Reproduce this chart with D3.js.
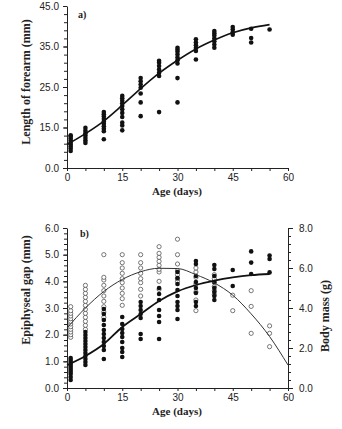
<!DOCTYPE html>
<html>
<head>
<meta charset="utf-8">
<script src="https://cdn.jsdelivr.net/npm/d3@7"></script>
<style>
  body { margin: 0; background: #fff; }
  text { fill: #222; }
</style>
</head>
<body>
<div id="chart"></div>
<script>
// ---- data ----
const ageGroups = [1, 5, 10, 15, 20, 25, 30, 35, 40, 45, 50, 55];

// a) forearm length (mm), one list per age group
const forearm = [
  [9.2, 9.8, 10.3, 10.8, 11.3, 11.8, 12.3, 12.8, 13.1],
  [11.2, 11.8, 12.4, 13.0, 13.6, 14.2, 14.9],
  [12.1, 14.1, 14.7, 15.3, 15.9, 16.5, 17.1, 17.7, 18.3, 18.8],
  [14.3, 15.5, 16.2, 17.6, 18.6, 19.5, 20.3, 21.0, 21.6, 22.2, 22.8],
  [17.8, 21.2, 23.4, 24.8, 25.6, 26.4, 27.2],
  [18.8, 27.7, 28.5, 29.3, 30.2, 31.0, 31.5],
  [21.2, 27.2, 30.8, 31.6, 32.3, 33.0, 33.7, 34.2, 34.7],
  [31.8, 33.9, 34.6, 35.3, 36.0, 36.8],
  [34.7, 35.5, 36.3, 37.0, 37.7, 38.3, 38.8],
  [37.9, 38.5, 39.2, 39.8],
  [36.0, 37.1, 39.4],
  [39.2]
];
const forearmFitAge = [0, 5, 10, 15, 20, 25, 30, 35, 40, 45, 50, 55];
const forearmFit = [10.8, 13.5, 16.6, 20.5, 24.6, 28.4, 31.6, 34.4, 36.6, 38.4, 39.6, 40.4];

// b) epiphyseal gap (mm, open circles, left axis)
const gap = [
  [1.9, 2.0, 2.1, 2.2, 2.3, 2.4, 2.5, 2.6, 2.7, 2.8, 2.9, 3.05],
  [2.2, 2.35, 2.5, 2.65, 2.8, 2.95, 3.1, 3.25, 3.4, 3.55, 3.7, 3.85],
  [2.65, 2.85, 3.05, 3.25, 3.45, 3.65, 3.85, 4.05, 4.15, 5.0],
  [3.1, 3.35, 3.55, 3.75, 3.95, 4.1, 4.3, 4.5, 4.7, 5.0],
  [3.45, 3.7, 3.95, 4.1, 4.3, 4.5, 4.7, 5.0],
  [3.7, 4.0, 4.35, 4.45, 4.6, 4.75, 4.9, 5.05, 5.3],
  [4.0, 4.1, 4.25, 4.4, 4.65, 5.0, 5.58],
  [2.9, 3.3, 3.6, 3.9, 4.15, 4.35, 4.5],
  [3.5, 3.65, 3.8, 3.95, 4.1, 4.25],
  [2.9, 3.48],
  [2.05, 3.06, 3.65],
  [1.55, 2.05, 2.33]
];
const gapFitAge = [0, 5, 10, 15, 20, 25, 30, 35, 40, 45, 50, 55, 60];
const gapFit = [2.25, 3.0, 3.62, 4.07, 4.36, 4.49, 4.48, 4.25, 3.94, 3.48, 2.78, 1.93, 0.86];

// b) body mass (g, filled circles, right axis)
const mass = [
  [0.4, 0.55, 0.7, 0.8, 0.9, 1.0, 1.1, 1.2, 1.3, 1.4, 1.5],
  [1.15, 1.3, 1.45, 1.6, 1.75, 1.9, 2.05, 2.2, 2.35, 2.5, 2.65, 2.8],
  [1.45, 1.9, 2.1, 2.3, 2.5, 2.7, 2.9, 3.15, 3.4, 3.7, 3.95],
  [1.55, 1.8, 2.0, 2.3, 2.55, 2.75, 2.95, 3.2, 3.55],
  [2.45, 2.7, 3.5, 3.7, 3.9, 4.1, 4.3],
  [2.45, 3.3, 3.6, 3.9, 4.4, 4.7, 5.0],
  [3.45, 3.9, 4.1, 4.3, 4.6, 4.9, 5.2, 5.5, 5.8],
  [4.1, 4.3, 4.75, 5.0, 5.3, 5.6, 6.2, 6.35],
  [4.4, 4.6, 4.8, 5.0, 5.3, 5.6, 5.95, 6.15],
  [5.1, 5.9],
  [5.7, 6.27, 6.83],
  [5.78, 6.45, 6.62]
];
const massFitAge = [0, 5, 10, 15, 20, 25, 30, 35, 40, 45, 50, 55];
const massFit = [1.14, 1.6, 2.2, 3.05, 3.7, 4.35, 4.83, 5.15, 5.37, 5.53, 5.64, 5.7];

const xTicks = [0, 15, 30, 45, 60];
const forearmTicks = [5, 15, 25, 35, 45];
const forearmTickLabels = ["0.0", "15.0", "25.0", "35.0", "45.0"];
const gapTicks = [0, 1, 2, 3, 4, 5, 6];
const massTicks = [0, 2, 4, 6, 8];

// ---- layout ----
const W = 342, H = 429;
const left = 67, right = 288;
const sans = "'Liberation Sans', Arial, sans-serif";
const serif = "'Liberation Serif', 'Times New Roman', serif";

const svg = d3.select("#chart").append("svg")
  .attr("width", W).attr("height", H);

const x = d3.scaleLinear().domain([0, 60]).range([left, right]);

function flat(groups) {
  let out = [];
  groups.forEach((vals, i) => vals.forEach(v => out.push([ageGroups[i], v])));
  return out;
}

function styleAxis(g) {
  g.select(".domain").attr("stroke", "#222").attr("stroke-width", 1);
  g.selectAll(".tick line").attr("stroke", "#222").attr("stroke-width", 1);
  g.selectAll("text").style("font-family", sans).style("font-size", "10px").attr("fill", "#333");
}

// x axis with minor ticks every 5 days and labels every 15
function xAxis(yPos) {
  let minor = svg.append("g").attr("transform", `translate(0,${yPos})`)
    .call(d3.axisBottom(x).tickValues(d3.range(0, 61, 5)).tickSize(3).tickSizeOuter(0).tickFormat(""));
  styleAxis(minor);
  let major = svg.append("g").attr("transform", `translate(0,${yPos})`)
    .call(d3.axisBottom(x).tickValues(xTicks).tickSize(0).tickPadding(6).tickFormat(d3.format("d")));
  major.select(".domain").remove();
  styleAxis(major);
}

// ---- panel a ----
const ya = d3.scaleLinear().domain([5, 45]).range([168, 6]);

xAxis(168);
let ayMinor = svg.append("g").attr("transform", `translate(${left},0)`)
  .call(d3.axisLeft(ya).tickValues(d3.range(5, 46, 2)).tickSize(3).tickSizeOuter(0).tickFormat(""));
styleAxis(ayMinor);
let ayMajor = svg.append("g").attr("transform", `translate(${left},0)`)
  .call(d3.axisLeft(ya).tickValues(forearmTicks).tickSize(4).tickPadding(4)
    .tickFormat((d, i) => forearmTickLabels[i]));
ayMajor.select(".domain").remove();
styleAxis(ayMajor);

svg.append("g").selectAll("circle")
  .data(flat(forearm)).enter().append("circle")
  .attr("cx", d => x(d[0])).attr("cy", d => ya(d[1]))
  .attr("r", 2.3).attr("fill", "#111");

svg.append("path")
  .datum(forearmFitAge.map((a, i) => [a, forearmFit[i]]))
  .attr("d", d3.line().x(d => x(d[0])).y(d => ya(d[1])).curve(d3.curveMonotoneX))
  .attr("fill", "none").attr("stroke", "#111").attr("stroke-width", 1.6);

svg.append("text").attr("x", 78).attr("y", 18)
  .style("font-family", serif).style("font-weight", "bold").style("font-size", "10px").text("a)");

svg.append("text").attr("transform", "translate(30,82) rotate(-90)")
  .attr("text-anchor", "middle")
  .style("font-family", serif).style("font-weight", "bold").style("font-size", "12px")
  .text("Length of forearm (mm)");

svg.append("text").attr("x", 177).attr("y", 195).attr("text-anchor", "middle")
  .style("font-family", serif).style("font-weight", "bold").style("font-size", "11px")
  .text("Age (days)");

// ---- panel b ----
const yb = d3.scaleLinear().domain([0, 6]).range([388, 228]);
const ym = d3.scaleLinear().domain([0, 8]).range([388, 228]);

xAxis(388);
let byMinor = svg.append("g").attr("transform", `translate(${left},0)`)
  .call(d3.axisLeft(yb).tickValues(d3.range(0, 30.5, 1).map(v => v / 5)).tickSize(3).tickSizeOuter(0).tickFormat(""));
styleAxis(byMinor);
let byMajor = svg.append("g").attr("transform", `translate(${left},0)`)
  .call(d3.axisLeft(yb).tickValues(gapTicks).tickSize(4).tickPadding(4).tickFormat(d3.format(".1f")));
byMajor.select(".domain").remove();
styleAxis(byMajor);

let myMinor = svg.append("g").attr("transform", `translate(${right},0)`)
  .call(d3.axisRight(ym).tickValues(d3.range(0, 20.5, 1).map(v => v * 0.4)).tickSize(3).tickSizeOuter(0).tickFormat(""));
styleAxis(myMinor);
let myMajor = svg.append("g").attr("transform", `translate(${right},0)`)
  .call(d3.axisRight(ym).tickValues(massTicks).tickSize(5).tickPadding(6).tickFormat(d3.format(".1f")));
myMajor.select(".domain").remove();
styleAxis(myMajor);

svg.append("g").selectAll("circle")
  .data(flat(gap)).enter().append("circle")
  .attr("cx", d => x(d[0])).attr("cy", d => yb(d[1]))
  .attr("r", 2.1).attr("fill", "#fff").attr("stroke", "#555").attr("stroke-width", 0.8);

svg.append("g").selectAll("circle")
  .data(flat(mass)).enter().append("circle")
  .attr("cx", d => x(d[0])).attr("cy", d => ym(d[1]))
  .attr("r", 2.3).attr("fill", "#111");

svg.append("path")
  .datum(gapFitAge.map((a, i) => [a, gapFit[i]]))
  .attr("d", d3.line().x(d => x(d[0])).y(d => yb(d[1])).curve(d3.curveMonotoneX))
  .attr("fill", "none").attr("stroke", "#333").attr("stroke-width", 1);

svg.append("path")
  .datum(massFitAge.map((a, i) => [a, massFit[i]]))
  .attr("d", d3.line().x(d => x(d[0])).y(d => ym(d[1])).curve(d3.curveMonotoneX))
  .attr("fill", "none").attr("stroke", "#111").attr("stroke-width", 1.8);

svg.append("text").attr("x", 80).attr("y", 237)
  .style("font-family", serif).style("font-weight", "bold").style("font-size", "10px").text("b)");

svg.append("text").attr("transform", "translate(30,290) rotate(-90)")
  .attr("text-anchor", "middle")
  .style("font-family", serif).style("font-weight", "bold").style("font-size", "12px")
  .text("Epiphyseal gap (mm)");

svg.append("text").attr("transform", "translate(329,316) rotate(-90)")
  .attr("text-anchor", "middle")
  .style("font-family", serif).style("font-weight", "bold").style("font-size", "12px")
  .text("Body mass (g)");

svg.append("text").attr("x", 177).attr("y", 415).attr("text-anchor", "middle")
  .style("font-family", serif).style("font-weight", "bold").style("font-size", "11px")
  .text("Age (days)");
</script>
</body>
</html>
